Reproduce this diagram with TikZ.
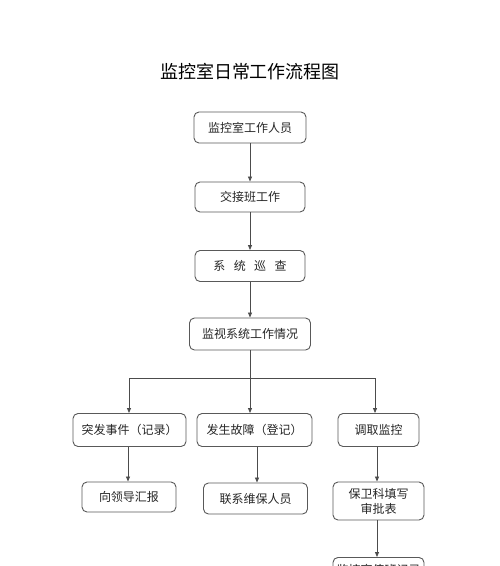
\documentclass[tikz,border=0pt]{standalone}
\usepackage{fontspec}
\setmainfont{Noto Sans CJK SC}
\newfontfamily\cjktitle{Noto Sans CJK SC}
\usetikzlibrary{arrows.meta}
\begin{document}
\begin{tikzpicture}[x=1pt,y=-1pt,
  boxst/.style={draw=black!65, line width=0.9pt, rounded corners=5pt, fill=white, inner sep=0pt, font=\fontsize{12}{15}\selectfont, align=center, text=black!85},
  arr/.style={draw=black!70, line width=0.8pt, -{Triangle[length=5pt,width=4pt]}},
  ln/.style={draw=black!70, line width=0.8pt}]
\useasboundingbox (0,0) rectangle (500,566);
\clip (0,0) rectangle (500,566);
\fill[white] (0,0) rectangle (500,566);
\node (title) at (250,72) {\cjktitle\fontsize{18}{20}\selectfont 监控室日常工作流程图};
\node[boxst, minimum width=112pt, minimum height=31pt] (b1) at (250,127.5) {监控室工作人员};
\node[boxst, minimum width=110pt, minimum height=30pt] (b2) at (250,197) {交接班工作};
\node[boxst, minimum width=110pt, minimum height=31pt] (b3) at (250,266) {系\hspace{0.7em}统\hspace{0.7em}巡\hspace{0.7em}查};
\node[boxst, minimum width=121pt, minimum height=32pt] (b4) at (250,334) {监视系统工作情况};
\node[boxst, minimum width=113pt, minimum height=33pt] (c1) at (129.5,430) {突发事件（记录）};
\node[boxst, minimum width=115pt, minimum height=33pt] (c2) at (254.5,430) {发生故障（登记）};
\node[boxst, minimum width=81pt, minimum height=33pt] (c3) at (378.5,430) {调取监控};
\node[boxst, minimum width=94pt, minimum height=30pt] (d1) at (129,497) {向领导汇报};
\node[boxst, minimum width=104pt, minimum height=31pt] (d2) at (255.5,498.5) {联系维保人员};
\node[boxst, minimum width=91pt, minimum height=38pt] (d3) at (378.5,501) {保卫科填写\\审批表};
\node[boxst, minimum width=91pt, minimum height=24pt, anchor=north] (e3) at (378.5,557) {监控室值班记录};
\coordinate (split) at (250,378);
\coordinate (sl) at (129,378);
\coordinate (sr) at (375,378);
\draw[arr] (b1) -- (b2);
\draw[arr] (b2) -- (b3);
\draw[arr] (b3) -- (b4);
\draw[ln] (b4.south) -- (split);
\draw[ln] (sl) -- (sr);
\draw[arr] (sl) -- (sl |- c1.north);
\draw[arr] (split) -- (split |- c2.north);
\draw[arr] (sr) -- (sr |- c3.north);
\draw[arr] (c1.south -| 128,0) -- (128,0 |- d1.north);
\draw[arr] (c2.south -| 257,0) -- (257,0 |- d2.north);
\draw[arr] (c3.south -| 377,0) -- (377,0 |- d3.north);
\draw[arr] (d3.south -| 377,0) -- (377,0 |- e3.north);
\end{tikzpicture}
\end{document}
